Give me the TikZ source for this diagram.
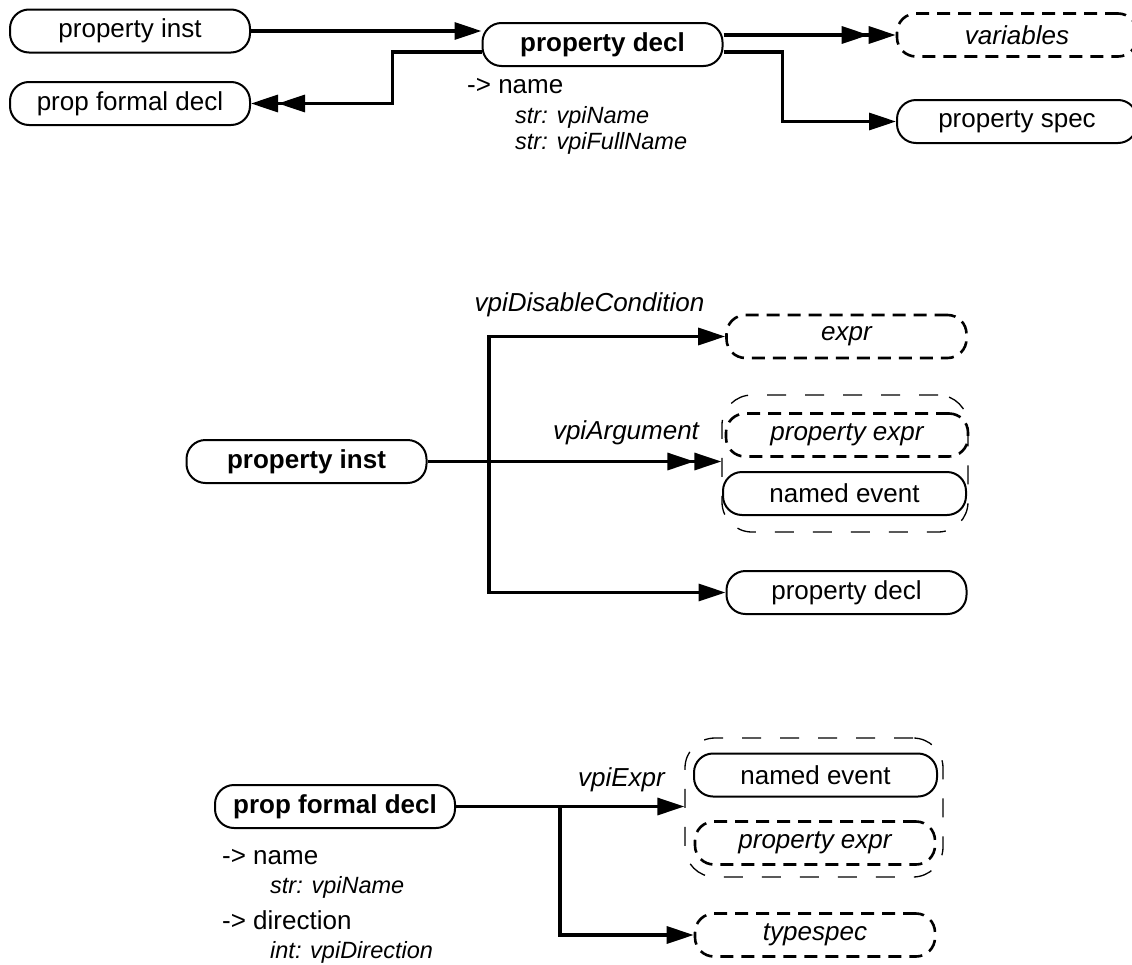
\documentclass[tikz,border=0pt]{standalone}
\usepackage{fontspec}
\setmainfont{Liberation Sans}
\usetikzlibrary{arrows.meta}
\begin{document}
\begin{tikzpicture}[x=1pt,y=-1pt,
  every node/.style={font=\fontsize{26}{30}\selectfont},
  obj/.style={draw, line width=2pt, rounded corners=19pt, minimum width=240pt, minimum height=43pt, inner sep=0pt},
  objb/.style={obj, font=\fontsize{26}{30}\selectfont\bfseries},
  cls/.style={draw, line width=2.6pt, dash pattern=on 13pt off 8pt, rounded corners=19pt, minimum width=240pt, minimum height=43pt, inner sep=0pt, font=\fontsize{26}{30}\selectfont\itshape},
  grp/.style={draw, line width=1.3pt, dash pattern=on 19pt off 19pt, rounded corners=30pt, inner sep=0pt},
  conn/.style={line width=3.3pt},
  one/.style={conn, -{Triangle[length=27pt,width=17pt]}},
  two/.style={conn, -{Triangle[length=27pt,width=17pt,sep=0pt]Triangle[length=27pt,width=17pt]}},
  attr/.style={anchor=west, inner sep=0pt, font=\fontsize{26}{30}\selectfont},
  sub/.style={anchor=west, inner sep=0pt, font=\fontsize{23.5}{28}\selectfont\itshape},
  lbl/.style={inner sep=0pt, font=\fontsize{26}{30}\selectfont\itshape},
]
\useasboundingbox (0,0) rectangle (1132,964);

% ---------- top ----------
\node[obj] (pinst1) at (130,31) {property inst};
\node[obj] (pfd1) at (130,103.5) {prop formal decl};
\node[objb] (pdecl1) at (602.5,44.5) {property decl};
\node[cls] (variables) at (1017,35) {variables};
\node[obj] (pspec1) at (1017,121.5) {property spec};
\node[attr] (a1) at (467,86) {-> name};
\node[sub] (a2) at (515,117) {str: vpiName};
\node[sub] (a3) at (515,143) {str: vpiFullName};

\draw[one] (pinst1.east) -- (pinst1.east -| pdecl1.west);
\draw[two] ([yshift=-7.5pt]pdecl1.west) -- ++(-89,0) |- (pfd1.east);
\draw[two] (pdecl1.east |- variables.west) -- (variables.west);
\draw[one] ([yshift=-7.5pt]pdecl1.east) -- ++(59,0) |- (pspec1.west);

% ---------- middle ----------
\node[objb] (pinst2) at (306.5,461.5) {property inst};
\node[cls] (expr) at (846.5,336.5) {expr};
\node[grp, minimum width=246pt, minimum height=137pt] (grp2) at (845,463.5) {};
\node[cls, minimum width=242pt] (pexpr2) at (847,435) {property expr};
\node[obj, minimum width=243pt] (nevent2) at (844.5,493.5) {named event};
\node[obj] (pdecl2) at (846.5,592.5) {property decl};
\coordinate (j2) at (489,463);
\node[lbl] (l1) at (589.5,305) {vpiDisableCondition};
\node[lbl] (l2) at (626,433) {vpiArgument};

\draw[one] (pdecl2.west -| j2) |- (expr.west);
\draw[one] (expr.west -| j2) |- (pdecl2.west);
\draw[two] (pinst2.east) -- (pinst2.east -| grp2.west);

% ---------- bottom ----------
\node[objb] (pfd3) at (335,806.5) {prop formal decl};
\node[grp, minimum width=258pt, minimum height=139pt] (grp3) at (814,807.5) {};
\node[obj, minimum width=243pt] (nevent3) at (815.5,775) {named event};
\node[cls] (pexpr3) at (815,843) {property expr};
\node[cls] (typespec) at (815,935) {typespec};
\coordinate (j3) at (560,807);
\node[lbl] (l3) at (621.5,780) {vpiExpr};
\node[attr] (b1) at (222,857) {-> name};
\node[sub] (b2) at (270,887) {str: vpiName};
\node[attr] (b3) at (222,920) {-> direction};
\node[sub] (b4) at (270,952) {int: vpiDirection};

\draw[one] (pfd3.east) -- (pfd3.east -| grp3.west);
\draw[one] (pfd3.east -| j3) |- (typespec.west);
\end{tikzpicture}
\end{document}
